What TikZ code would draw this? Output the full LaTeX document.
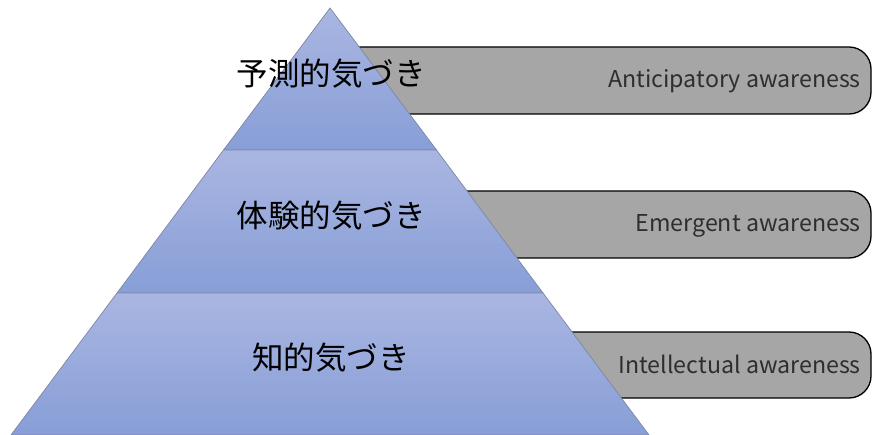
\documentclass[tikz,border=0pt]{standalone}
\usepackage{fontspec}
\newfontfamily\jpfont{Noto Sans CJK JP}
\definecolor{lvltop}{RGB}{170,182,225}
\definecolor{lvlbot}{RGB}{135,158,215}
\definecolor{lvledge}{RGB}{125,135,165}
\definecolor{barfill}{RGB}{166,166,166}
\begin{document}
\begin{tikzpicture}[x=1pt,y=-1pt,
  level/.style={top color=lvltop,bottom color=lvlbot,draw=lvledge,line width=0.7pt},
  bar/.style={fill=barfill,draw=black,line width=1.3pt,rounded corners=22pt},
  jplabel/.style={font=\jpfont\fontsize{31.5}{33}\selectfont,text=black,inner sep=0pt},
  enlabel/.style={font=\jpfont\fontsize{23.2}{25}\selectfont,text=black!82,inner sep=0pt,anchor=base east}]
\useasboundingbox (0,0) rectangle (872,435);
% bars (behind pyramid)
\draw[bar] (330,47) rectangle (871,114);
\draw[bar] (400,191) rectangle (871,258);
\draw[bar] (500,332) rectangle (871,398);
% pyramid levels
\draw[level] (330,8) -- (436.5,150) -- (223.5,150) -- cycle;
\draw[level] (223.5,150) -- (436.5,150) -- (543,293) -- (117,293) -- cycle;
\draw[level] (117,293) -- (543,293) -- (649,435) -- (11,435) -- cycle;
% labels
\node[jplabel] (l1) at (331,74) {予測的気づき};
\node[jplabel] (l2) at (331,216) {体験的気づき};
\node[jplabel] (l3) at (331,358) {知的気づき};
\node[enlabel] (e1) at (861,88) {Anticipatory awareness};
\node[enlabel] (e2) at (861,232) {Emergent awareness};
\node[enlabel] (e3) at (861,373) {Intellectual awareness};
\end{tikzpicture}
\end{document}
